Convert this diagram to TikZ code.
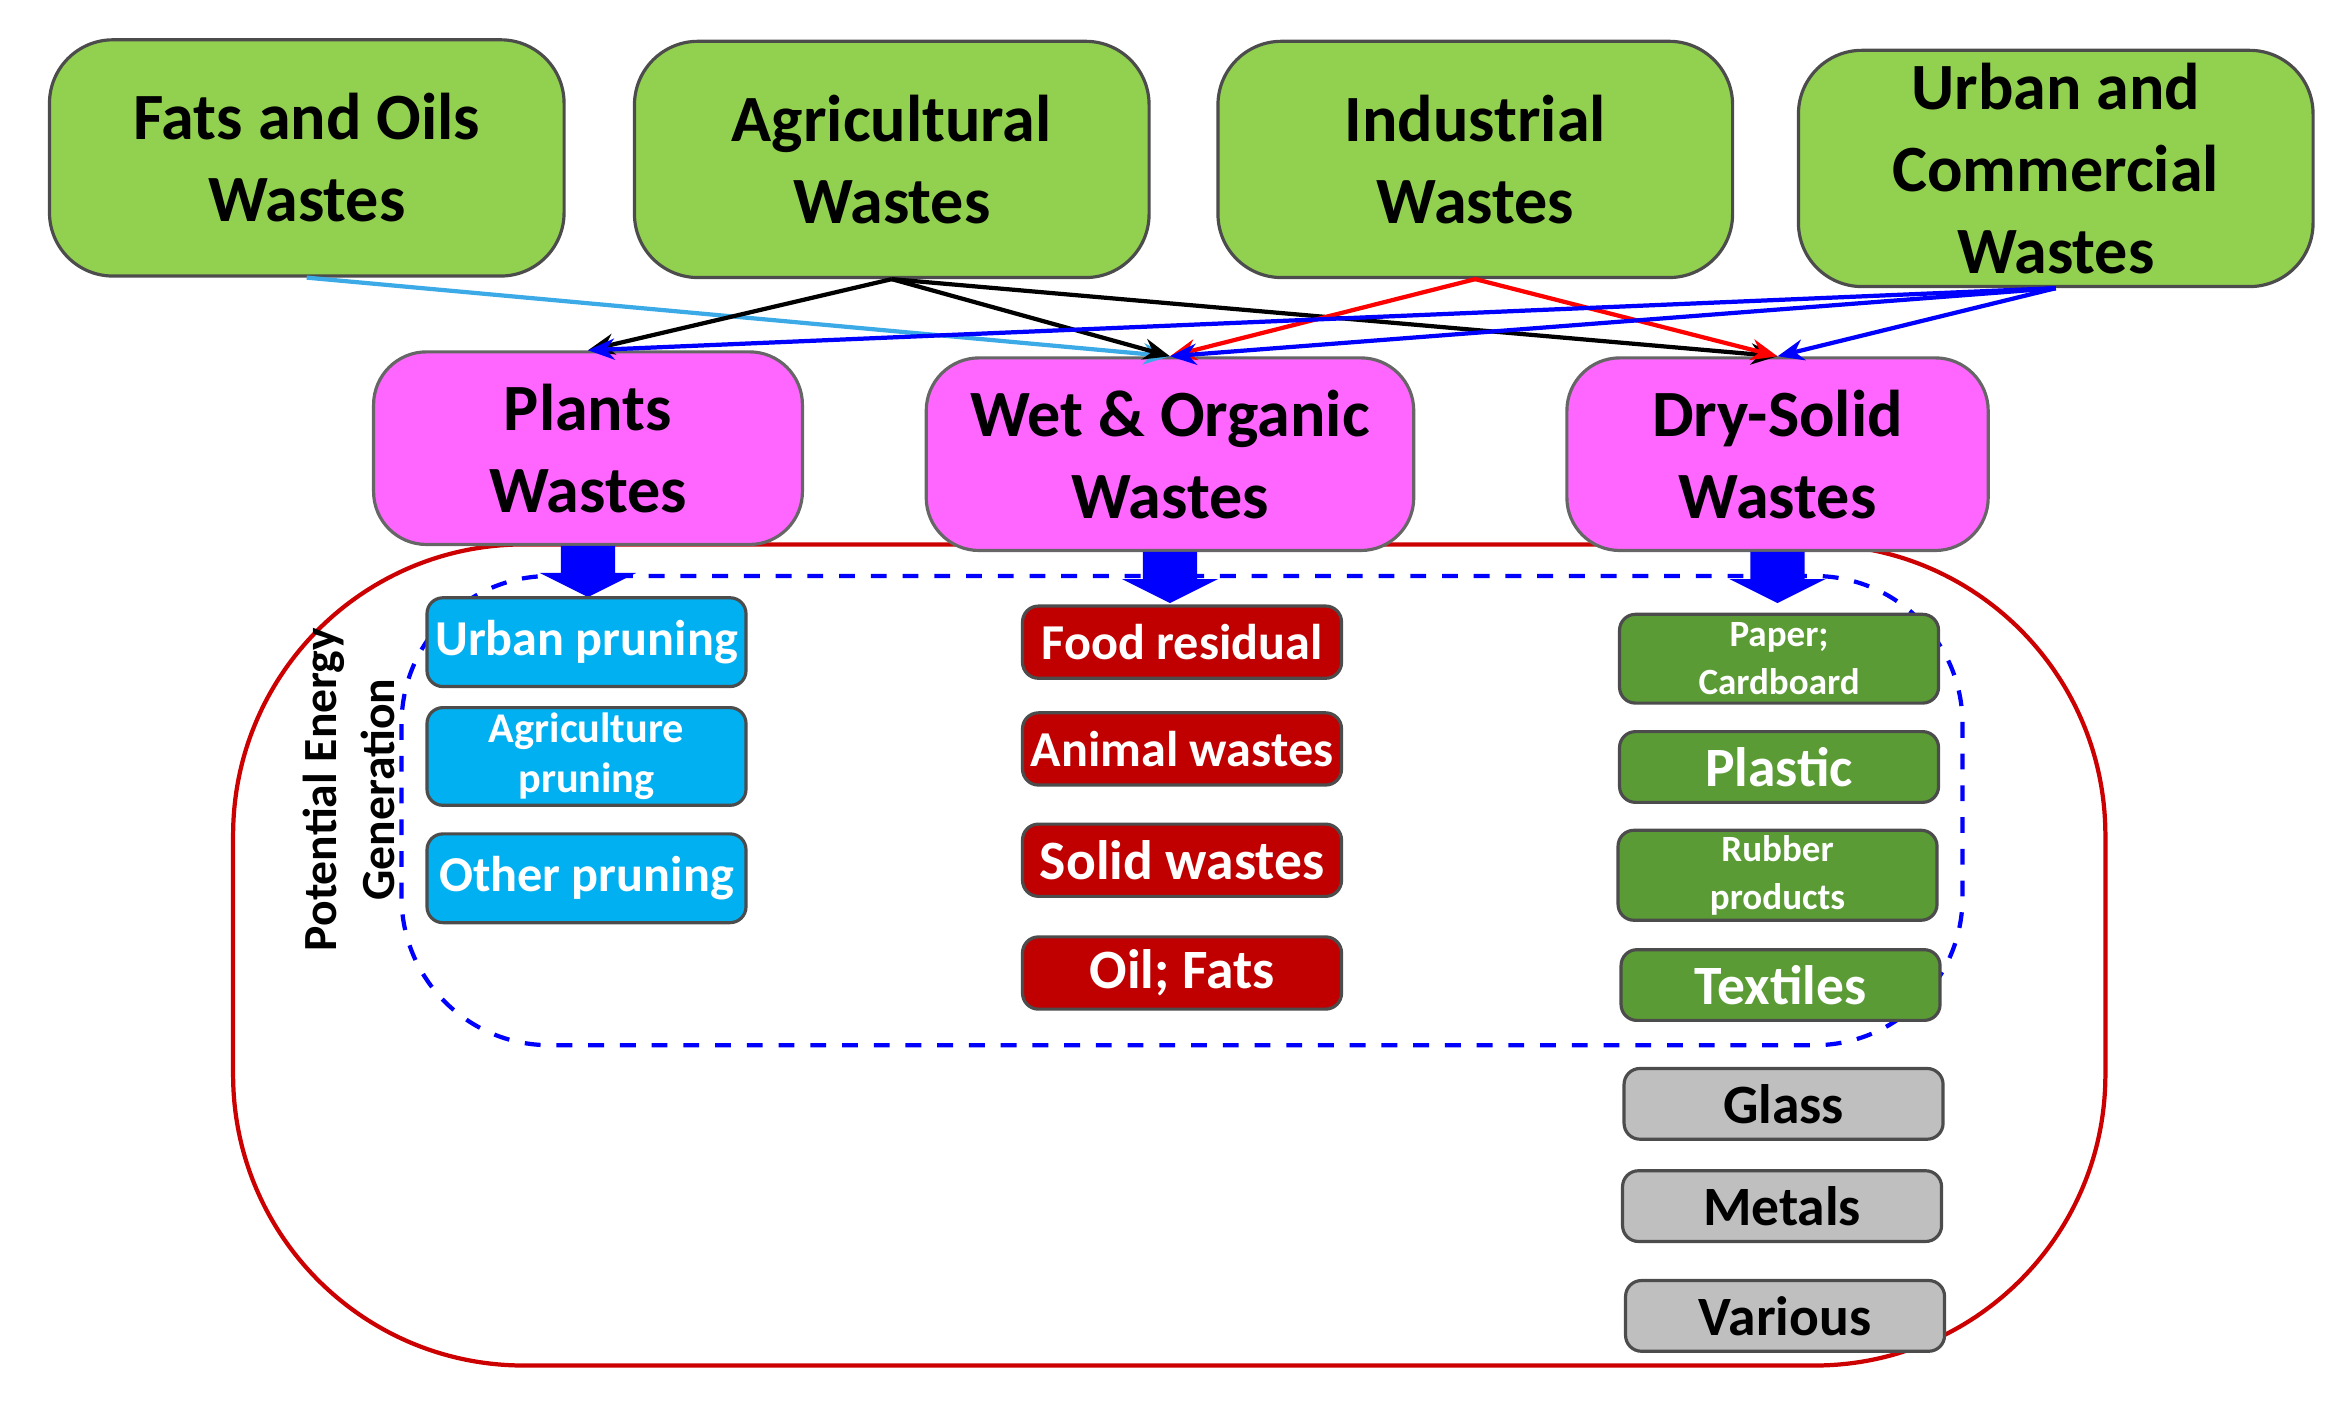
\documentclass[tikz,border=0pt]{standalone}
\usepackage{fontspec}
\setmainfont{Carlito}
\usetikzlibrary{arrows.meta}
\begin{document}
\begin{tikzpicture}[x=0.01cm,y=-0.01cm,
source/.style={draw=black!70,fill={rgb,255:red,146;green,208;blue,80},rounded corners=12pt,line width=0.6pt,minimum width=3.42cm,minimum height=1.57cm,inner sep=1pt,align=center,font=\fontsize{12.5}{15.5}\selectfont\bfseries},
group/.style={draw=black!60,fill={rgb,255:red,255;green,102;blue,255},rounded corners=10pt,line width=0.6pt,minimum height=1.28cm,inner sep=1pt,align=center,font=\fontsize{12.5}{15.5}\selectfont\bfseries},
item/.style={draw=black!70,rounded corners=3pt,line width=0.6pt,minimum width=2.12cm,inner sep=1pt,align=center,font=\fontsize{8.5}{9.5}\selectfont\bfseries,text=white},
plant/.style={item,fill={rgb,255:red,0;green,176;blue,240},minimum height=0.59cm},
wet/.style={item,fill={rgb,255:red,192;green,0;blue,0},minimum height=0.48cm},
dry/.style={item,fill={rgb,255:red,91;green,155;blue,53},minimum height=0.47cm},
other/.style={item,fill={rgb,255:red,191;green,191;blue,191},text=black,minimum height=0.47cm},
big/.style={font=\fontsize{9.5}{11}\selectfont\bfseries},
tiny/.style={font=\fontsize{7}{9}\selectfont\bfseries},
link/.style={line width=0.8pt,-{Stealth[length=5pt,width=4pt]}}]

\useasboundingbox (0,0) rectangle (1560,938);

% outer frames
\draw[red!80!black,line width=0.8pt,rounded corners=55pt] (155,362) rectangle (1400,908);
\draw[blue,dashed,line width=0.8pt,rounded corners=28pt] (267,383) rectangle (1305,695);

% sources
\node[source] (fats) at (204,105) {Fats and Oils\\Wastes};
\node[source] (agri) at (593,106) {Agricultural\\Wastes};
\node[source] (indu) at (981,106) {Industrial\\Wastes};
\node[source] (urban) at (1367,112) {Urban and\\Commercial\\Wastes};

% groups
\node[group,minimum width=2.85cm] (plants) at (391,298) {Plants\\Wastes};
\node[group,minimum width=3.24cm] (wet) at (778,302) {Wet \& Organic\\Wastes};
\node[group,minimum width=2.8cm] (dry) at (1182,302) {Dry-Solid\\Wastes};

% links
\draw[link,color={rgb,255:red,60;green,170;blue,230}] (fats.south) -- (wet.north);
\draw[link,black] (agri.south) -- (plants.north);
\draw[link,black] (agri.south) -- (wet.north);
\draw[link,black] (agri.south) -- (dry.north);
\draw[link,red] (indu.south) -- (wet.north);
\draw[link,red] (indu.south) -- (dry.north);
\draw[link,blue] (urban.south) -- (plants.north);
\draw[link,blue] (urban.south) -- (wet.north);
\draw[link,blue] (urban.south) -- (dry.north);

% block arrows
\foreach \x/\t in {391/363,778/367,1182/367}
  \fill[blue] (\x-18,\t) -- (\x+18,\t) -- (\x+18,\t+18) -- (\x+32,\t+18) -- (\x,\t+34) -- (\x-32,\t+18) -- (\x-18,\t+18) -- cycle;

% plants items
\node[plant,big] (urbprun) at (390,427) {Urban pruning};
\node[plant,font=\fontsize{8}{9.5}\selectfont\bfseries] (agrprun) at (390,503) {Agriculture\\pruning};
\node[plant,big] (othprun) at (390,584) {Other pruning};

% wet items
\node[wet,big] (food) at (786,427) {Food residual};
\node[wet,big] (animal) at (786,498) {Animal wastes};
\node[wet,font=\fontsize{10.5}{12}\selectfont\bfseries] (solid) at (786,572) {Solid wastes};
\node[wet,font=\fontsize{10.5}{12}\selectfont\bfseries] (oil) at (786,647) {Oil; Fats};

% dry items
\node[dry,tiny,minimum height=0.59cm] (paper) at (1183,438) {Paper;\\Cardboard};
\node[dry,font=\fontsize{10.5}{12}\selectfont\bfseries] (plastic) at (1183,510) {Plastic};
\node[dry,tiny,minimum height=0.58cm] (rubber) at (1182,582) {Rubber\\products};
\node[dry,font=\fontsize{10.5}{12}\selectfont\bfseries] (textiles) at (1184,655) {Textiles};

% other items
\node[other,font=\fontsize{10.5}{12}\selectfont\bfseries] (glass) at (1186,734) {Glass};
\node[other,font=\fontsize{10.5}{12}\selectfont\bfseries] (metals) at (1185,802) {Metals};
\node[other,font=\fontsize{10.5}{12}\selectfont\bfseries] (various) at (1187,875) {Various};

\node[rotate=90,align=center,font=\fontsize{9}{11}\selectfont\bfseries] (potential) at (232,525) {Potential Energy\\Generation};
\end{tikzpicture}
\end{document}
